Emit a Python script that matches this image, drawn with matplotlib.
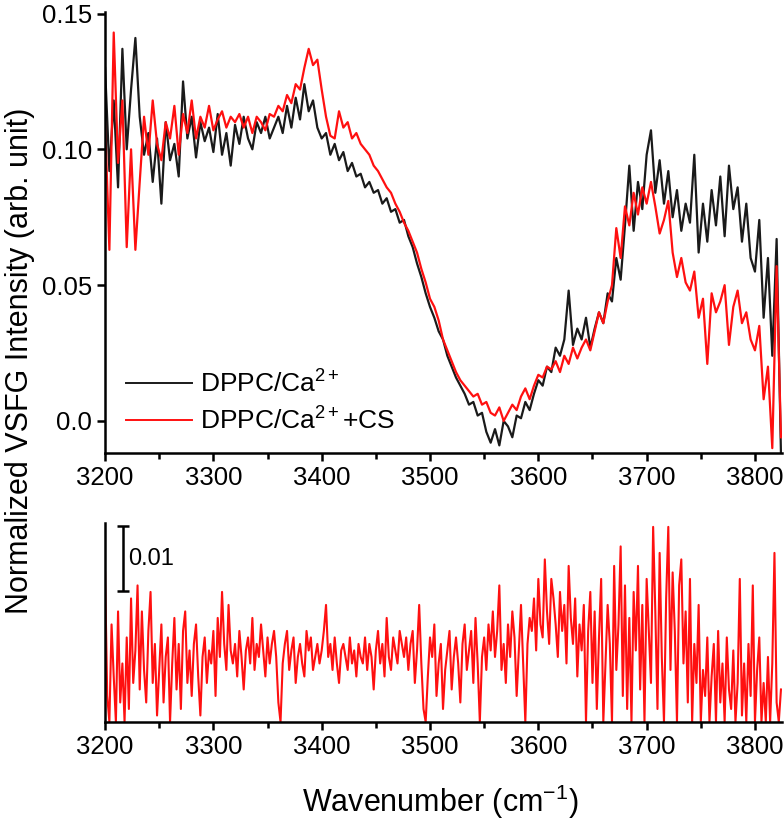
import matplotlib

matplotlib.use("Agg")
import matplotlib.pyplot as plt
import numpy as np

plt.rcParams["font.family"] = ["Liberation Sans", "DejaVu Sans"]
plt.rcParams["mathtext.fontset"] = "custom"
plt.rcParams["mathtext.rm"] = "Liberation Sans"
plt.rcParams["mathtext.it"] = "Liberation Sans:italic"

# wavenumber grid (cm-1) of the two spectra, 4 cm-1 step
wavenumber = np.arange(3200, 3825, 4)

# DPPC/Ca2+  (x 1e-3)
dppc_ca = [
    130, 92, 118, 86, 137, 100, 122, 141, 112, 98,
    106, 88, 104, 80, 110, 96, 102, 90, 125, 104,
    112, 97, 110, 103, 108, 99, 113, 98, 106, 94,
    109, 102, 112, 104, 100, 110, 106, 112, 104, 108,
    112, 106, 116, 108, 119, 111, 124, 114, 118, 108,
    104, 106, 98, 102, 96, 99, 92, 95, 90, 91,
    86, 88, 84, 85, 80, 82, 77, 78, 73, 74,
    68, 64, 58, 53, 47, 42, 38, 33, 30, 24,
    20, 16, 13, 10, 6, 7, 2, 3, -4, -8,
    -3, -9, 0, -2, -6, 2, 1, 7, 4, 10,
    15, 13, 20, 18, 27, 24, 30, 48, 28, 34,
    30, 38, 27, 34, 40, 36, 47, 44, 60, 52,
    72, 94, 70, 88, 78, 98, 107, 84, 96, 80,
    92, 75, 85, 70, 80, 73, 98, 62, 80, 66,
    85, 72, 90, 68, 94, 78, 86, 66, 80, 60,
    55, 74, 38, 60, 24, 67, -12,
]

# DPPC/Ca2+ + CS  (x 1e-3)
dppc_ca_cs = [
    110, 63, 143, 95, 118, 64, 100, 63, 88, 112,
    98, 118, 102, 96, 110, 104, 116, 98, 113, 106,
    118, 104, 112, 108, 116, 107, 111, 114, 108, 112,
    110, 113, 108, 112, 106, 112, 110, 107, 113, 112,
    116, 114, 120, 117, 124, 122, 130, 137, 131, 133,
    122, 112, 105, 104, 114, 108, 110, 104, 106, 102,
    100, 98, 94, 92, 89, 86, 84, 80, 77, 73,
    70, 66, 62, 56, 51, 45, 42, 37, 30, 26,
    22, 18, 15, 13, 11, 9, 10, 6, 7, 3,
    2, 5, 0, 3, 6, 4, 9, 12, 8, 13,
    17, 16, 20, 19, 22, 18, 24, 21, 27, 23,
    27, 30, 26, 33, 40, 36, 44, 50, 71, 60,
    79, 72, 84, 76, 86, 80, 88, 79, 69, 74,
    81, 62, 53, 60, 51, 48, 55, 38, 45, 21,
    47, 40, 44, 50, 28, 42, 48, 36, 40, 30,
    26, 35, 8, 20, -10, 57, -6,
]

# difference trace for the bottom panel, 2 cm-1 step (x 1e-3, offset)
wavenumber_diff = np.arange(3200, 3825, 2)
difference = [
    23, 4, 0, 15, 7, 0, 17, 3, 9, 0, 13, 2, 19, 6, 11, 21, 5, 17, 8, 3,
    14, 20, 6, 12, 1, 8, 15, 3, 10, 13, 0, 9, 16, 5, 12, 2, 14, 17, 6, 11,
    4, 12, 15, 7, 1, 10, 13, 6, 11, 9, 14, 4, 16, 10, 20, 12, 8, 18, 11, 9,
    12, 7, 14, 10, 5, 11, 13, 9, 16, 8, 12, 10, 15, 11, 7, 13, 9, 12, 14, 10,
    3, 0, 9, 12, 14, 8, 11, 13, 6, 10, 12, 9, 7, 14, 11, 13, 8, 10, 12, 9,
    11, 14, 18, 10, 12, 8, 13, 9, 6, 11, 12, 10, 8, 13, 9, 11, 7, 12, 10, 9,
    13, 8, 12, 10, 5, 11, 14, 9, 12, 7, 16, 10, 8, 13, 11, 9, 14, 12, 10, 13,
    8, 12, 14, 6, 11, 18, 9, 2, 0, 7, 13, 10, 15, 4, 9, 12, 2, 8, 11, 14,
    5, 10, 13, 9, 3, 12, 15, 8, 11, 14, 6, 16, 9, 0, 10, 13, 8, 15, 11, 17,
    10, 14, 21, 8, 12, 6, 15, 10, 17, 13, 4, 11, 18, 9, 0, 12, 16, 14, 19, 11,
    22, 15, 13, 25, 17, 12, 22, 19, 15, 10, 20, 14, 18, 9, 24, 16, 12, 19, 7, 15,
    11, 18, 0, 14, 20, 6, 17, 2, 13, 22, 0, 9, 18, 12, 0, 24, 8, 15, 27, 4,
    21, 2, 16, 0, 20, 11, 24, 5, 18, 0, 22, 14, 6, 30, 17, 2, 26, 10, 0, 19,
    30, 8, 23, 14, 0, 21, 25, 9, 17, 3, 22, 0, 12, 6, 18, 0, 8, 4, 13, 0,
    7, 12, 0, 14, 3, 9, 0, 13, 5, 2, 11, 0, 6, 22, 1, 9, 0, 12, 4, 21,
    0, 8, 13, 0, 6, 0, 10, 0, 9, 26, 3, 0, 5,
]

black = "#1a1a1a"
red = "#ff1010"
fs = 18.5

fig = plt.figure(figsize=(7.84, 8.21), dpi=100)
ax1 = fig.add_axes([0.134, 0.4482, 0.8635, 0.537])
ax2 = fig.add_axes([0.134, 0.1206, 0.8635, 0.2424])

ax1.plot(wavenumber, np.array(dppc_ca) * 1e-3, color=black, lw=1.6,
         label=r"DPPC/Ca$^{2+}$")
ax1.plot(wavenumber, np.array(dppc_ca_cs) * 1e-3, color=red, lw=1.6,
         label=r"DPPC/Ca$^{2+}$+CS")
ax1.set_xlim(3200, 3825)
ax1.set_ylim(-0.0118, 0.1505)
ax1.set_yticks([0.0, 0.05, 0.10, 0.15])
ax1.set_yticklabels(["0.0", "0.05", "0.10", "0.15"])

ax2.plot(wavenumber_diff, np.array(difference) * 1e-3, color=red, lw=1.5)
ax2.set_xlim(3200, 3825)
ax2.set_ylim(0, 0.0306)
ax2.set_yticks([])

# scale bar (0.01)
ax2.errorbar([3217], [0.0251], yerr=0.005, color="black", capsize=4.5,
             elinewidth=1.8, capthick=1.8)
ax2.text(3221, 0.0251, "0.01", fontsize=17, va="center", ha="left")

for ax in (ax1, ax2):
    ax.spines["top"].set_visible(False)
    ax.spines["right"].set_visible(False)
    for s in ("left", "bottom"):
        ax.spines[s].set_linewidth(1.8)
    ax.set_xticks(np.arange(3200, 3801, 100))
    ax.set_xticks(np.arange(3250, 3826, 100), minor=True)
    ax.tick_params(which="major", direction="out", length=6, width=1.8,
                   labelsize=fs)
    ax.tick_params(which="minor", direction="out", length=4, width=1.8)

leg = ax1.legend(loc="lower left", bbox_to_anchor=(0.0, -0.005), frameon=False,
                 fontsize=19, handlelength=2.5, handletextpad=0.3,
                 labelspacing=0.35, borderaxespad=0.4)
for h in leg.get_lines():
    h.set_linewidth(1.4)

fig.text(0.026, 0.56, "Normalized VSFG Intensity (arb. unit)", rotation=90,
         fontsize=22, ha="center", va="center")
fig.text(0.561, 0.023, r"Wavenumber (cm$^{-1}$)", fontsize=22,
         ha="center", va="center")

fig.savefig("out.png", dpi=100)
